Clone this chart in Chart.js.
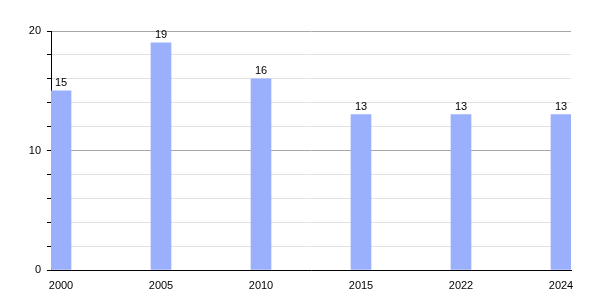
<!DOCTYPE html>
<html>
<head>
<meta charset="utf-8">
<script src="https://cdn.jsdelivr.net/npm/chart.js@4"></script>
<style>
html,body{margin:0;padding:0;background:#fff;}
#wrap{width:600px;height:300px;position:relative;}
</style>
</head>
<body>
<div id="wrap"><canvas id="c"></canvas></div>
<script>
const categories = ["2000", "2005", "2010", "2015", "2022", "2024"];
const values = [15, 19, 16, 13, 13, 13];
const yTickLabels = [0, 10, 20];

const points = categories.map((c, i) => ({x: i, y: values[i]}));

const valueLabels = {
  id: 'valueLabels',
  afterDatasetsDraw(chart) {
    const ctx = chart.ctx;
    const meta = chart.getDatasetMeta(0);
    ctx.save();
    ctx.font = '11px "Liberation Sans", Arial, sans-serif';
    ctx.fillStyle = '#000';
    ctx.textAlign = 'center';
    ctx.textBaseline = 'bottom';
    meta.data.forEach((bar, i) => {
      ctx.fillText(String(values[i]), bar.x, bar.y - 2);
    });
    ctx.restore();
  }
};

new Chart(document.getElementById('c'), {
  type: 'bar',
  data: {
    datasets: [{
      data: points,
      backgroundColor: '#9ab0fd',
      borderWidth: 0,
      barThickness: 20
    }]
  },
  options: {
    responsive: true,
    maintainAspectRatio: false,
    animation: false,
    events: [],
    layout: {padding: {top: 31, right: 29, left: 0, bottom: 0}},
    plugins: {legend: {display: false}, tooltip: {enabled: false}},
    scales: {
      x: {
        type: 'linear',
        offset: false,
        min: -0.1,
        max: categories.length - 0.9,
        afterBuildTicks(scale) {
          scale.ticks = categories.map((c, i) => ({value: i}));
        },
        afterFit(scale) { scale.height = 30; },
        grid: {display: false, offset: false},
        border: {color: '#000', width: 1},
        ticks: {
          color: '#000',
          padding: 1,
          maxRotation: 0,
          font: {family: '"Liberation Sans", Arial, sans-serif', size: 11},
          callback: (v) => categories[v] !== undefined ? categories[v] : ''
        }
      },
      y: {
        min: 0,
        max: 20,
        afterFit(scale) { scale.width = 51; },
        grid: {
          color: (ctx) => (ctx.tick && ctx.tick.value % 10 === 0) ? '#a8a8a8' : '#e2e2e2',
          tickColor: '#000',
          tickLength: 4,
          drawTicks: true
        },
        border: {color: '#000', width: 1},
        ticks: {
          stepSize: 2,
          color: '#000',
          padding: 6,
          font: {family: '"Liberation Sans", Arial, sans-serif', size: 11},
          callback: (v) => yTickLabels.includes(v) ? String(v) : ''
        }
      }
    }
  },
  plugins: [valueLabels]
});
</script>
</body>
</html>
